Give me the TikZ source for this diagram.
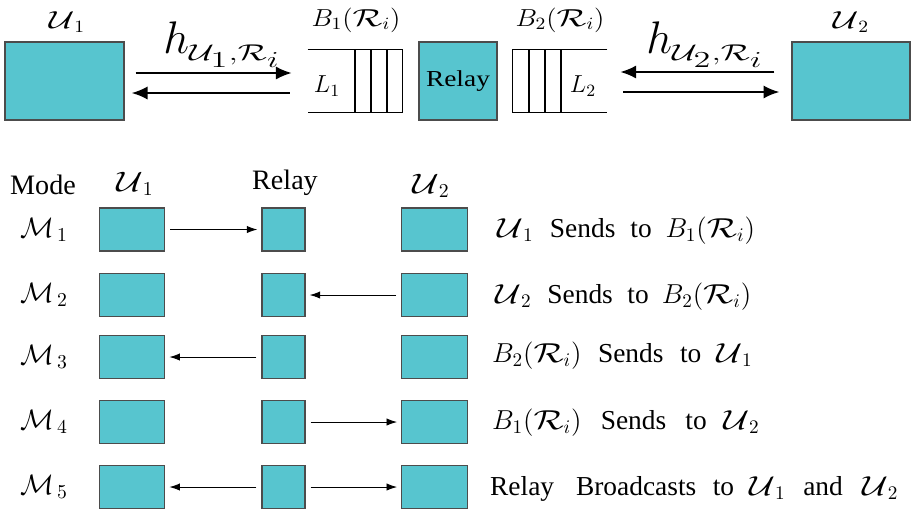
\RequirePackage{fix-cm}
\documentclass[tikz,border=0pt]{standalone}
\usepackage{amsmath, amssymb}
\usepackage{fontspec}
\setmainfont{Liberation Serif}
\usepackage{tikz}
\usetikzlibrary{arrows.meta}

\definecolor{relaycyan}{RGB}{87,197,207}
\newcommand{\xwide}[2][1.3]{\scalebox{#1}[1]{#2}}
\newcommand{\fsz}[1]{\fontsize{#1}{#1}\selectfont}
\newcommand{\calw}[1]{\text{\xwide[1.3]{$\mathcal{#1}$}}}
\newcommand{\gap}[1]{\hspace{#1em}}

\tikzset{
	blk/.style={draw=black!70, line width=0.8pt, fill=relaycyan, inner sep=0pt},
	bigbox/.style={blk, minimum width=2.38cm, minimum height=1.56cm},
	midbox/.style={blk, minimum width=1.56cm, minimum height=1.56cm},
	userbox/.style={blk, minimum width=1.31cm, minimum height=0.86cm},
	relbox/.style={blk, minimum width=0.86cm, minimum height=0.86cm},
	linkarrow/.style={line width=1.1pt, -{Latex[length=9pt,width=7.5pt]}},
	modearrow/.style={line width=0.5pt, -{Latex[length=6pt,width=4.2pt]}, shorten <=0.1cm, shorten >=0.08cm},
	buffer/.style={minimum width=1.88cm, minimum height=1.24cm, inner sep=0pt}
}

\begin{document}
\begin{tikzpicture}[x=0.02cm, y=-0.02cm]
		\useasboundingbox (0,0) rectangle (912,512);
		\node[bigbox] (u1) at (64.5,81) {};
		\node[midbox] (relay) at (458,81) {\fsz{13}\xwide[1.2]{Relay}};
		\node[bigbox, minimum width=2.36cm] (u2) at (851,81) {};
		\node (u1lbl) at (67,22) {\fsz{14}\xwide[1.1]{$\calw{U}_1$}};
		\node (u2lbl) at (851,22) {\fsz{14}\xwide[1.1]{$\calw{U}_2$}};
		\node[buffer] (buf1) at (355,81) {};
		\node[buffer] (buf2) at (560,81) {};
		\draw[line width=0.8pt] (buf1.north west) -- (buf1.north east) -- (buf1.south east) -- (buf1.south west);
		\draw[line width=0.8pt] (buf2.north east) -- (buf2.north west) -- (buf2.south west) -- (buf2.south east);
		\foreach \x in {355,371,387} {
			\draw[line width=0.8pt] (\x,50) -- (\x,112);
		}
		\foreach \x in {529,545,561} {
			\draw[line width=0.8pt] (\x,50) -- (\x,112);
		}
		\node (l1) at (327,86) {\fsz{14}$L_1$};
		\node (l2) at (583,86) {\fsz{14}$L_2$};
		\node (b1lbl) at (356,20) {\fsz{14}\xwide[1.1]{$B_1(\calw{R}_i)$}};
		\node (b2lbl) at (560,20) {\fsz{14}\xwide[1.1]{$B_2(\calw{R}_i)$}};
		\node (h1) at (222,45) {\fsz{26}$h_{\xwide[1.5]{$\scriptscriptstyle\mathcal{U}_1,\mathcal{R}_i$}}$};
		\node (h2) at (705,45) {\fsz{26}$h_{\xwide[1.5]{$\scriptscriptstyle\mathcal{U}_2,\mathcal{R}_i$}}$};
		\draw[linkarrow, shorten <=0.22cm, shorten >=0.32cm] ([yshift=0.16cm]u1.east) -- ([yshift=0.16cm]buf1.west);
		\draw[linkarrow, shorten <=0.36cm, shorten >=0.14cm] ([yshift=-0.24cm]buf1.west) -- ([yshift=-0.24cm]u1.east);
		\draw[linkarrow, shorten <=0.34cm, shorten >=0.26cm] ([yshift=0.18cm]u2.west) -- ([yshift=0.18cm]buf2.east);
		\draw[linkarrow, shorten <=0.32cm, shorten >=0.24cm] ([yshift=-0.22cm]buf2.east) -- ([yshift=-0.22cm]u2.west);

		\node (mode) at (43,185) {\fsz{16}Mode};
		\node (hu1) at (135,184) {\fsz{16}$\calw{U}_1$};
		\node (hrl) at (285,183) {\fsz{16}Relay};
		\node (hu2) at (431,186) {\fsz{16}$\calw{U}_2$};
		\foreach \r/\yy in {1/229.5,2/295,3/357,4/422,5/487} {
			\node (m\r) at (44,\yy) {\fsz{16}$\mathcal{M}_{\,\r}$};
			\node[userbox] (a\r) at (132,\yy) {};
			\node[relbox] (b\r) at (283.5,\yy) {};
			\node[userbox] (c\r) at (434.5,\yy) {};
		}
		\draw[modearrow] (a1) -- (b1);
		\draw[modearrow] (c2) -- (b2);
		\draw[modearrow] (b3) -- (a3);
		\draw[modearrow] (b4) -- (c4);
		\draw[modearrow] (b5) -- (a5);
		\draw[modearrow] (b5) -- (c5);

		\node[anchor=west] (t1) at (491,231) {\fsz{15.6}$\calw{U}_1$\gap{0.6}Sends\gap{0.55}to\gap{0.5}$B_1(\calw{R}_i)$};
		\node[anchor=west] (t2) at (489,297) {\fsz{15.6}$\calw{U}_2$\gap{0.58}Sends\gap{0.53}to\gap{0.48}$B_2(\calw{R}_i)$};
		\node[anchor=west] (t3) at (486,356) {\fsz{15.6}$B_2(\calw{R}_i)$\gap{0.6}Sends\gap{0.6}to\gap{0.55}$\calw{U}_1$};
		\node[anchor=west] (t4) at (486,423) {\fsz{15.6}$B_1(\calw{R}_i)$\gap{0.7}Sends\gap{0.7}to\gap{0.6}$\calw{U}_2$};
		\node[anchor=west] (t5) at (484,489) {\fsz{15.6}Relay\gap{0.8}Broadcasts\gap{0.6}to\gap{0.55}$\calw{U}_1$\gap{0.65}and\gap{0.7}$\calw{U}_2$};
	\end{tikzpicture}
\end{document}
